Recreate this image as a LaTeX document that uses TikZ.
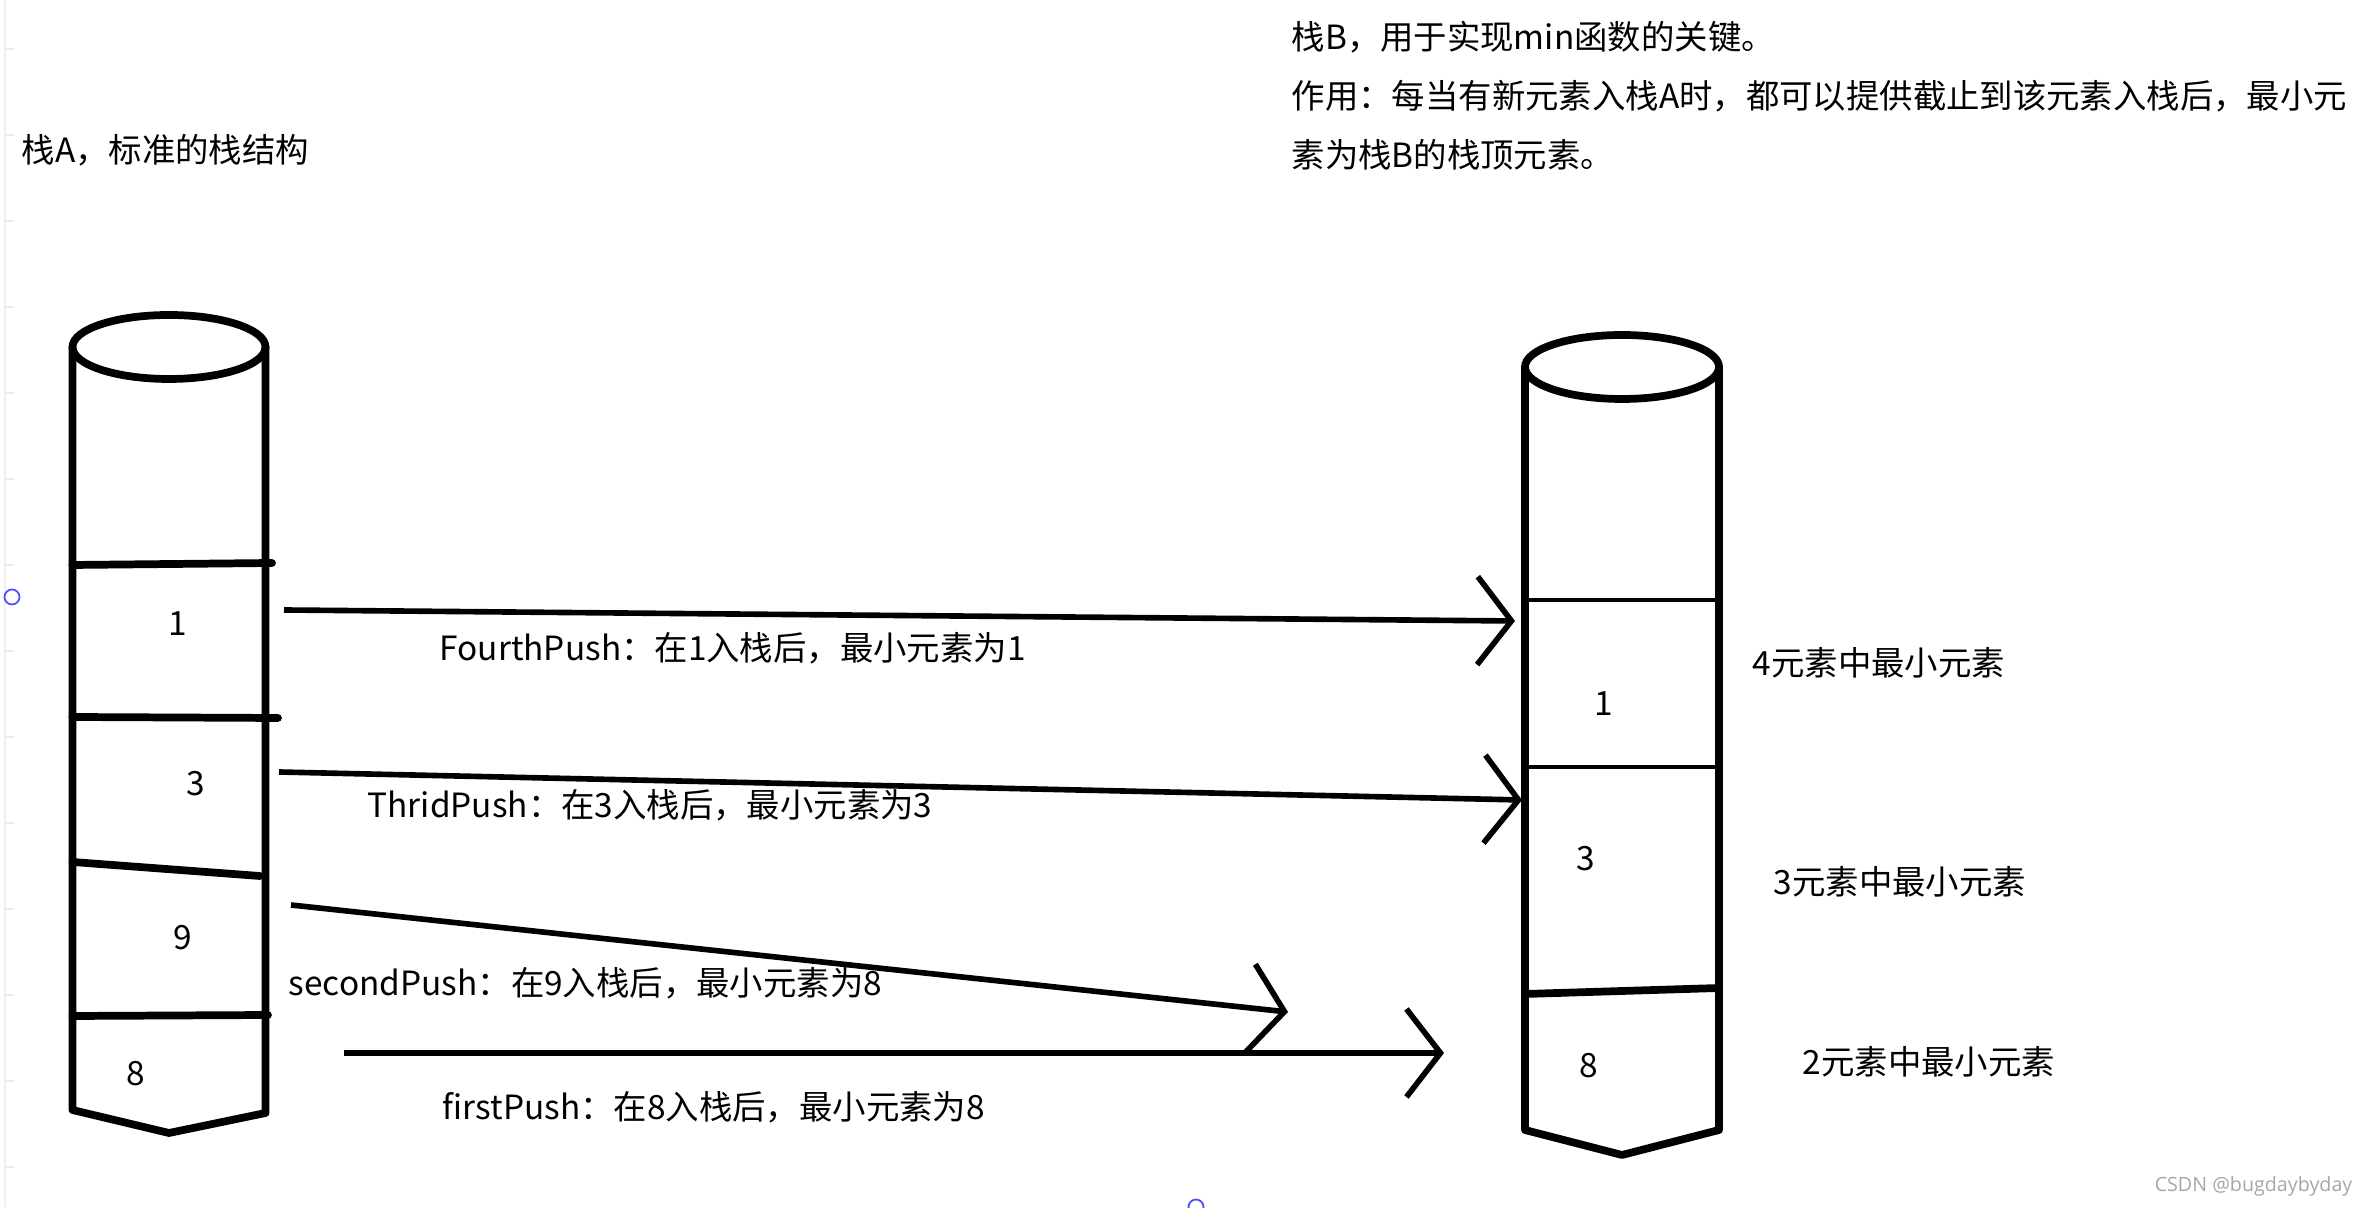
\documentclass[tikz,border=0pt]{standalone}
\usepackage{fontspec}
\setmainfont{Noto Sans CJK SC}
\newfontfamily\markfont{Open Sans}
\usetikzlibrary{arrows.meta,positioning}

\begin{document}
\begin{tikzpicture}[
    wall/.style={
        line width=2.2pt,
        line cap=round,
        line join=round
    },
    slot/.style={
        line width=1.2pt
    },
    push/.style={
        -{Straight Barb[length=3.4mm,width=8.8mm]},
        line width=1.6pt
    },
    txt/.style={
        anchor=west,
        inner sep=0pt,
        font=\fontsize{9.5}{11}\selectfont
    },
    num/.style={
        inner sep=0pt,
        font=\fontsize{9.5}{11}\selectfont
    }
]
\useasboundingbox (0,0) rectangle (23.68,12.07);

% ---- screenshot ruler at the left edge ----
\draw[gray!12, line width=0.6pt] (0.05,0) -- (0.05,12.07);
\foreach \t in {0.4,1.26,...,12.0}
    \draw[gray!15, line width=0.6pt] (0.05,\t) -- (0.14,\t);
\draw[blue!70, line width=0.5pt] (0.12,6.10) circle (0.075);
\draw[blue!70, line width=0.5pt] (11.96,0.0) circle (0.075);

% ---- captions ----
\node[txt] (capA) at (0.21,10.57) {栈A，标准的栈结构};
\node[txt, align=left, font=\fontsize{9.5}{16.7}\selectfont, anchor=north west] (capB) at (12.91,11.86)
    {栈B，用于实现min函数的关键。\\作用：每当有新元素入栈A时，都可以提供截止到该元素入栈后，最小元\\素为栈B的栈顶元素。};

% ---- stack A (standard stack) ----
\draw[wall] (1.69,8.60) ellipse [x radius=0.965, y radius=0.32];
\draw[wall] (0.725,8.60) -- (0.725,0.97) -- (1.69,0.74) -- (2.655,0.94) -- (2.655,8.60);
\draw[wall] (0.725,6.42) -- (2.72,6.44);
\draw[wall] (0.725,4.90) -- (2.78,4.89);
\draw[wall] (0.725,3.45) -- (2.60,3.31);
\draw[wall] (0.725,1.91) -- (2.68,1.92);

\node[num] (a1) at (1.78,5.83) {1};
\node[num] (a3) at (1.96,4.23) {3};
\node[num] (a9) at (1.83,2.69) {9};
\node[num] (a8) at (1.36,1.33) {8};

% ---- stack B (min stack) ----
\draw[wall] (16.22,8.40) ellipse [x radius=0.97, y radius=0.32];
\draw[wall] (15.25,8.40) -- (15.25,0.77) -- (16.22,0.52) -- (17.19,0.77) -- (17.19,8.40);
\draw[slot] (15.25,6.07) -- (17.19,6.07);
\draw[slot] (15.25,4.40) -- (17.19,4.40);
\draw[wall] (15.25,2.13) -- (17.19,2.19);

\node[num] (b1) at (16.04,5.03) {1};
\node[num] (b3) at (15.86,3.48) {3};
\node[num] (b8) at (15.89,1.41) {8};

\node[txt] (m4) at (17.52,5.44) {4元素中最小元素};
\node[txt] (m3) at (17.73,3.25) {3元素中最小元素};
\node[txt] (m2) at (18.02,1.45) {2元素中最小元素};

% ---- pushes (A -> B) ----
\coordinate (p4s) at (2.84,5.97);  \coordinate (p4e) at (15.15,5.86);
\coordinate (p3s) at (2.79,4.35);  \coordinate (p3e) at (15.22,4.07);
\coordinate (p2s) at (2.91,3.02);  \coordinate (p2e) at (12.88,1.95);
\coordinate (p1s) at (3.44,1.54);  \coordinate (p1e) at (14.44,1.54);

\draw[push] (p4s) -- (p4e);
\draw[push] (p3s) -- (p3e);
\draw[push] (p2s) -- (p2e);
\draw[push] (p1s) -- (p1e);

\node[txt] (l4) at (4.39,5.59) {FourthPush：在1入栈后，最小元素为1};
\node[txt] (l3) at (3.67,4.02) {ThridPush：在3入栈后，最小元素为3};
\node[txt] (l2) at (2.88,2.24) {secondPush：在9入栈后，最小元素为8};
\node[txt] (l1) at (4.42,1.00) {firstPush：在8入栈后，最小元素为8};

% ---- watermark ----
\node[anchor=east, inner sep=0pt, text=gray!70, font=\markfont\fontsize{5.6}{7}\selectfont] (wm) at (23.53,0.21) {CSDN @bugdaybyday};

\end{tikzpicture}
\end{document}
